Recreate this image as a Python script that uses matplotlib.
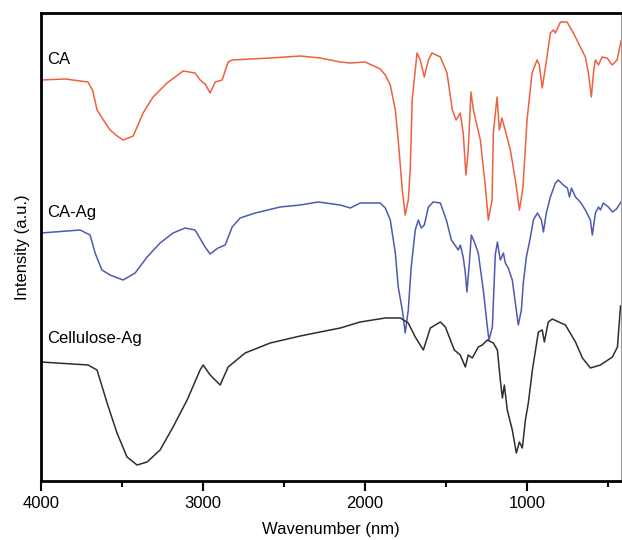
import matplotlib.pyplot as plt

plt.rcParams['font.family'] = ['Liberation Sans', 'DejaVu Sans']

# CA (red)
ca_wn = [4000, 3850, 3710, 3680, 3654, 3611, 3574, 3530, 3493, 3431, 3370, 3308, 3222, 3123, 3049, 3018,
         2987, 2956, 2925, 2882, 2845, 2820, 2585, 2400, 2277, 2153, 2091, 1999, 1906,
         1875, 1844, 1813, 1795, 1770, 1752, 1733, 1721, 1709, 1679, 1659, 1634, 1609,
         1587, 1535, 1494, 1461, 1438, 1412, 1394, 1377, 1363, 1346, 1331, 1288, 1257,
         1239, 1216, 1208, 1185, 1171, 1155, 1140, 1103, 1072, 1047, 1025, 1000, 969,
         938, 924, 906, 877, 856, 837, 825, 794, 753, 714, 683, 640, 621, 603, 590, 578,
         559, 537, 506, 475, 444, 420]
ca_int = [401, 402, 399, 390, 371, 360, 351, 345, 341, 345, 368, 384, 398, 410, 408, 401,
          397, 388, 399, 401, 419, 421, 423, 425, 423, 419, 418, 419, 412,
          406, 396, 371, 341, 291, 266, 281, 311, 381, 428, 421, 404, 421,
          428, 424, 408, 371, 361, 368, 348, 306, 331, 389, 371, 341, 294,
          261, 281, 348, 384, 351, 363, 354, 331, 301, 271, 294, 361, 408,
          421, 416, 393, 424, 448, 451, 448, 459, 459, 448, 438, 424, 408, 384, 408, 421,
          416, 424, 423, 416, 421, 440]

# CA-Ag (blue)
caag_wn = [4000, 3759, 3697, 3666, 3624, 3574, 3493, 3419, 3345, 3265, 3185, 3111, 3049, 2987,
           2956, 2907, 2863, 2820, 2771, 2678, 2524, 2400, 2289, 2153, 2091, 2030, 1906,
           1875, 1844, 1813, 1795, 1770, 1752, 1733, 1715, 1690, 1671, 1653, 1634, 1609,
           1579, 1535, 1498, 1467, 1424, 1412, 1394, 1381, 1371, 1356, 1344, 1325, 1301,
           1270, 1245, 1235, 1214, 1208, 1196, 1183, 1165, 1146, 1134, 1116, 1091, 1072,
           1054, 1035, 1023, 1004, 979, 961, 936, 911, 899, 881, 856, 825, 807, 776, 751,
           738, 726, 701, 671, 640, 609, 597, 578, 559, 547, 529, 498, 473, 448, 420]
caag_int = [248, 251, 246, 228, 211, 206, 201, 208, 224, 238, 248, 253, 251, 234,
            227, 233, 236, 254, 263, 268, 274, 276, 279, 276, 273, 278, 278,
            273, 261, 228, 194, 171, 148, 171, 214, 251, 261, 253, 256, 274,
            279, 278, 261, 241, 231, 236, 224, 208, 189, 218, 246, 239, 228,
            191, 154, 141, 154, 178, 226, 239, 221, 228, 218, 213, 201, 178,
            156, 171, 198, 224, 244, 261, 268, 261, 249, 268, 284, 298, 301, 296, 293,
            284, 293, 284, 279, 271, 261, 246, 268, 274, 271, 278, 274, 269, 272, 279]

# Cellulose-Ag (black)
cell_wn = [4000, 3710, 3654, 3592, 3531, 3469, 3407, 3345, 3265, 3185, 3098, 3018, 2999, 2956, 2894,
           2845, 2740, 2585, 2400, 2277, 2153, 2030, 1875, 1782, 1733, 1690, 1640, 1597,
           1535, 1504, 1449, 1412, 1381, 1363, 1338, 1301, 1276, 1245, 1208, 1183, 1165,
           1152, 1140, 1122, 1091, 1066, 1047, 1029, 1010, 992, 967, 930, 906, 893, 869,
           844, 763, 701, 658, 609, 547, 473, 442, 423]
cell_int = [119, 116, 111, 78, 48, 24, 16, 19, 31, 54, 81, 111, 116, 106, 96,
            114, 128, 138, 145, 149, 153, 159, 163, 163, 158, 144, 131, 153,
            159, 154, 131, 126, 114, 126, 123, 134, 136, 141, 138, 131, 101,
            83, 96, 71, 51, 28, 39, 33, 61, 78, 111, 149, 151, 139, 159,
            162, 156, 139, 123, 113, 116, 124, 134, 175]

labels = ["CA", "CA-Ag", "Cellulose-Ag"]
label_y = [421, 269, 142]

fig = plt.figure(figsize=(6.22, 5.40), dpi=100)
ax = fig.add_axes([41 / 622, 59 / 540, 580 / 622, 468 / 540])

ax.plot(ca_wn, ca_int, color="#f0603f", lw=1.1)
ax.plot(caag_wn, caag_int, color="#4b5bb2", lw=1.1)
ax.plot(cell_wn, cell_int, color="#2e2e2e", lw=1.1)

for lbl, y in zip(labels, label_y):
    ax.text(3960, y, lbl, fontsize=12, va="center", ha="left")

ax.set_xlim(4000, 420)
ax.set_ylim(0, 468)
ax.set_xticks([4000, 3000, 2000, 1000])
ax.set_xticks([3500, 2500, 1500, 500], minor=True)
ax.set_yticks([])
ax.tick_params(axis="x", which="major", direction="out", length=7, width=1.5, labelsize=12)
ax.tick_params(axis="x", which="minor", direction="out", length=4, width=1.5)

for s in ["left", "bottom", "top"]:
    ax.spines[s].set_linewidth(2)
ax.spines["right"].set_linewidth(0.8)
ax.spines["right"].set_color("#999999")

ax.set_xlabel("Wavenumber (nm)", fontsize=12, labelpad=8)
ax.set_ylabel("Intensity (a.u.)", fontsize=12, labelpad=8)

plt.savefig("out.png", dpi=100)
